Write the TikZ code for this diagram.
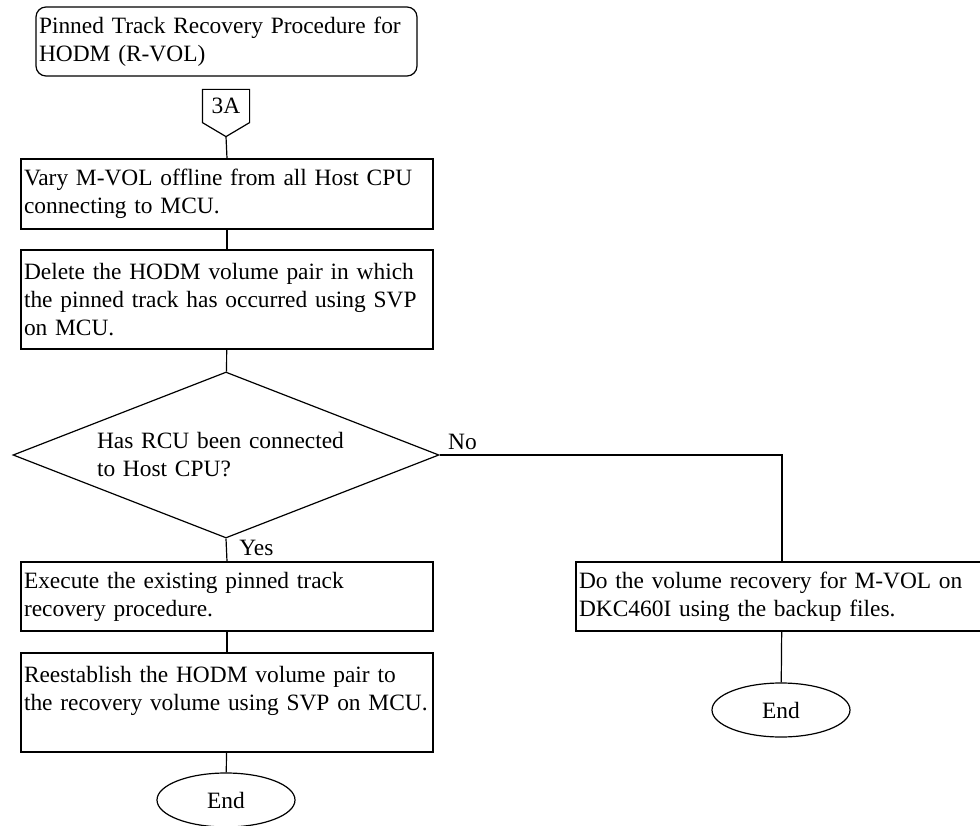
\documentclass[tikz,border=0pt]{standalone}
\usepackage{fontspec}
\setmainfont{Liberation Serif}
\usepackage{tikz}
\usetikzlibrary{calc,positioning,shapes.geometric}

\begin{document}
\begin{tikzpicture}[x=1pt,y=1pt,font=\fontsize{23.4pt}{28pt}\selectfont,line width=1.2pt,
      bx/.style={draw,rectangle,text width=406pt,inner xsep=3pt,inner ysep=2pt,minimum width=412pt},
      ttl/.style={draw,rectangle,rounded corners=10pt,text width=375pt,inner xsep=3pt,minimum width=381pt,minimum height=69pt},
      dec/.style={draw,diamond,aspect=2.57,inner sep=0pt,text width=258pt,minimum width=426pt,minimum height=166pt},
      term/.style={draw,ellipse,minimum width=138pt,minimum height=54pt,inner sep=0pt},
      ln/.style={line width=1.2pt}]
      \useasboundingbox (0,0) rectangle (980,-826);
      \node[ttl] (title) at (226.5,-41.5) {Pinned Track Recovery Procedure for\\HODM (R-VOL)};
      \node[minimum width=46pt,minimum height=32pt,inner sep=0pt] (c3a) at (226,-106) {3A};
      \draw[ln] (c3a.north west) -- (c3a.north east) -- (c3a.south east) -- ($(c3a.south)+(0,-14)$) coordinate (c3atip) -- (c3a.south west) -- cycle;
      \node[bx,minimum height=70pt] (vary) at (227,-194) {Vary M-VOL offline from all Host CPU\\connecting to MCU.};
      \node[bx,minimum height=99pt] (delete) at (227,-299.5) {Delete the HODM volume pair in which\\the pinned track has occurred using SVP\\on MCU.};
      \node[dec] (rcu) at (226,-455) {Has RCU been connected\\to Host CPU?};
      \node[bx,minimum height=69pt] (exec) at (227,-596.5) {Execute the existing pinned track\\recovery procedure.};
      \node[bx,minimum height=99pt] (reest) at (227,-702.5) {Reestablish the HODM volume pair to\\the recovery volume using SVP on MCU.\\\mbox{}};
      \node[term] (endl) at (226,-800) {End};
      \node[bx,minimum height=69pt] (backup) at (782,-596.5) {Do the volume recovery for M-VOL on\\DKC460I using the backup files.};
      \node[term] (endr) at (781,-710) {End};
      \draw[ln] (c3atip) -- (vary.north);
      \draw[ln] (vary) -- (delete);
      \draw[ln] (delete) -- (rcu);
      \draw[ln] (rcu.south) -- node[pos=0.4,right,xshift=9pt] {Yes} (exec.north);
      \draw[ln] (exec) -- (reest);
      \draw[ln] (reest) -- (endl);
      \draw[ln] (rcu.east) -- node[pos=0,anchor=south west,inner sep=2pt,xshift=6pt,yshift=3pt] {No} ++(0,0) -| (backup.north);
      \draw[ln] (backup) -- (endr);
    \end{tikzpicture}
\end{document}
